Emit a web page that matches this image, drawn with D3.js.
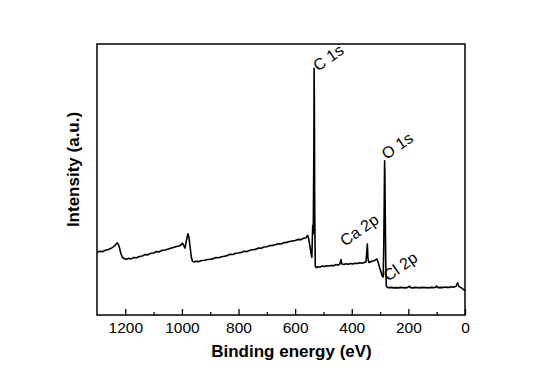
<!DOCTYPE html>
<html>
<head>
<meta charset="utf-8">
<script src="https://cdn.jsdelivr.net/npm/d3@7"></script>
<style>
  html, body { margin: 0; padding: 0; background: #fff; }
  svg { display: block; }
  text { font-family: "Liberation Sans", Arial, sans-serif; fill: #000; }
</style>
</head>
<body>
<svg id="chart" width="541" height="378"></svg>
<script>
// ---- Data ----
const bindingEnergy = [
  1300,1290,1280,1270,1260,1250,1240,1234,1228,1222,1216,1210,1204,1196,1188,1180,1170,1160,1150,1140,
  1130,1120,1110,1100,1090,1080,1070,1060,1050,1040,1030,1020,1010,1004,998,993,989,984,979,975,
  971,967,963,958,950,940,930,920,910,900,890,880,870,860,850,840,830,820,810,800,
  790,780,770,760,750,740,730,720,710,700,690,680,670,660,650,640,630,620,610,600,
  590,580,570,562,556,552,548,544,541,538,536,534,533,532,531,529,526,520,512,504,
  496,488,480,472,464,456,448,442,438,435,428,420,412,404,396,388,380,372,364,356,
  350,347,345,343,340,334,328,322,316,311,307,302,297,292,289,287,285,284,283,282,
  280,278,274,268,260,252,244,236,228,220,212,204,196,192,184,176,168,160,152,144,
  136,128,120,112,104,100,96,88,80,72,64,56,48,40,32,26,22,16,10,4,0
];
const intensity = [
  23.1,23.5,23.4,23.9,24.2,24.6,25.3,26.0,26.6,25.4,22.8,21.2,20.8,20.6,20.9,20.7,21.2,21.1,21.6,21.8,
  22.3,22.2,22.8,22.9,23.4,23.3,23.9,24.0,24.3,24.6,24.9,25.3,25.4,25.9,26.5,25.5,24.7,27.5,30.0,28.5,
  25.0,21.5,19.9,19.6,19.8,19.7,20.1,20.2,20.5,20.6,20.8,21.2,21.1,21.5,21.7,21.9,22.4,22.3,22.8,22.9,
  23.1,23.5,23.4,23.9,24.1,24.2,24.7,24.6,25.1,25.2,25.6,25.7,25.9,26.3,26.2,26.7,26.8,27.1,27.3,27.5,
  27.9,27.8,28.3,28.5,29.4,28.0,25.5,22.8,21.3,33.0,30.0,60.0,91.0,75.0,40.0,18.0,17.5,17.8,17.7,18.1,
  17.9,18.2,18.1,18.3,18.2,18.6,18.4,18.9,20.5,18.8,18.6,18.9,18.7,19.0,18.8,19.1,19.0,19.3,19.1,19.4,
  19.6,23.0,26.2,21.0,19.4,19.6,19.8,20.0,20.3,20.7,19.5,17.6,16.0,14.3,14.0,25.0,45.0,56.9,52.0,40.0,
  20.0,10.6,10.2,10.1,10.2,10.0,10.1,10.0,10.2,10.1,10.0,10.1,10.6,10.1,10.0,10.2,10.1,10.0,10.2,10.1,
  10.1,10.0,10.2,10.1,10.2,10.7,10.1,10.2,10.1,10.3,10.2,10.2,10.4,10.3,10.5,11.9,10.6,10.2,9.8,9.3,9.0
];
const majorTicks = [1200, 1000, 800, 600, 400, 200, 0];
const minorTicks = [1100, 900, 700, 500, 300, 100];
const peakLabels = ["C 1s", "O 1s", "Ca 2p", "Cl 2p"];
const peakLabelEnergy = [519, 277, 424, 271];
const peakLabelIntensity = [89.8, 57.2, 25.2, 12.3];

// ---- Layout ----
const margin = { left: 97, top: 44, right: 541 - 465, bottom: 378 - 315 };
const W = 541, H = 378;
const svg = d3.select("#chart");
svg.append("rect").attr("width", W).attr("height", H).attr("fill", "#fff");

const x = d3.scaleLinear().domain([1300, 0]).range([margin.left, W - margin.right]);
const y = d3.scaleLinear().domain([0, 100]).range([H - margin.bottom, margin.top]);

const data = bindingEnergy.map((e, i) => ({ e, v: intensity[i] }));

// spectrum
const line = d3.line().x(d => x(d.e)).y(d => y(d.v));
svg.append("path")
  .datum(data)
  .attr("d", line)
  .attr("fill", "none")
  .attr("stroke", "#000")
  .attr("stroke-width", 1.6)
  .attr("stroke-linejoin", "round");

// axes
const bottomY = H - margin.bottom;
const xAxis = d3.axisBottom(x).tickValues(majorTicks).tickSizeInner(-6).tickSizeOuter(0).tickPadding(7)
  .tickFormat(d3.format("d"));
const gx = svg.append("g").attr("transform", `translate(0,${bottomY})`).call(xAxis);
gx.select(".domain").remove();
gx.selectAll(".tick line").attr("stroke", "#000").attr("stroke-width", 1.3);
gx.selectAll(".tick text").style("font-size", "15.5px").attr("fill", "#000");

const xMinor = d3.axisBottom(x).tickValues(minorTicks).tickSizeInner(-3).tickSizeOuter(0).tickFormat("");
const gm = svg.append("g").attr("transform", `translate(0,${bottomY})`).call(xMinor);
gm.select(".domain").remove();
gm.selectAll(".tick line").attr("stroke", "#000").attr("stroke-width", 1.3);

// frame
svg.append("rect")
  .attr("x", x(1300)).attr("y", y(100))
  .attr("width", x(0) - x(1300)).attr("height", y(0) - y(100))
  .attr("fill", "none").attr("stroke", "#000").attr("stroke-width", 1.5);

// peak labels
peakLabels.forEach((t, i) => {
  const px = x(peakLabelEnergy[i]), py = y(peakLabelIntensity[i]);
  svg.append("text")
    .attr("transform", `translate(${px},${py}) rotate(-35)`)
    .style("font-size", "16px")
    .text(t);
});

// axis titles
svg.append("text")
  .attr("x", 291.5).attr("y", 356.7)
  .attr("text-anchor", "middle")
  .style("font-size", "17px").style("font-weight", "bold")
  .text("Binding energy (eV)");

svg.append("text")
  .attr("transform", "translate(79,169.5) rotate(-90)")
  .attr("text-anchor", "middle")
  .style("font-size", "17px").style("font-weight", "bold")
  .text("Intensity (a.u.)");
</script>
</body>
</html>
